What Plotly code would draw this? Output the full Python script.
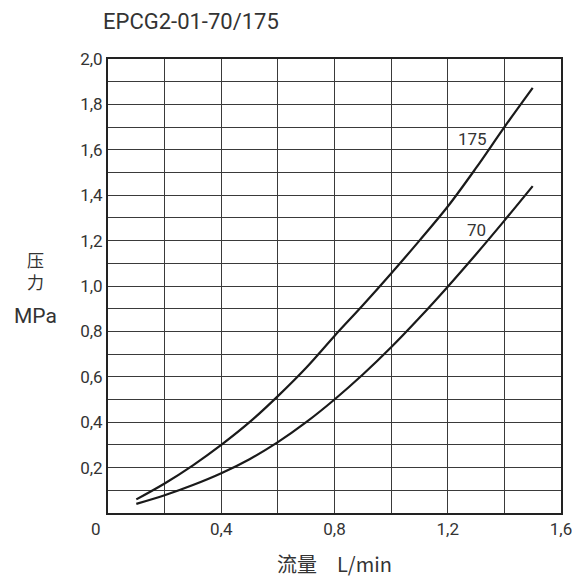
import plotly.graph_objects as go

flow = [0.1, 0.2, 0.3, 0.4, 0.5, 0.6, 0.7, 0.8, 0.9, 1.0, 1.1, 1.2, 1.3, 1.4, 1.5]
p175 = [0.06, 0.13, 0.21, 0.30, 0.40, 0.515, 0.64, 0.78, 0.915, 1.055, 1.20, 1.35, 1.52, 1.70, 1.873]
p70 = [0.04, 0.078, 0.123, 0.175, 0.237, 0.312, 0.40, 0.50, 0.61, 0.73, 0.86, 0.997, 1.14, 1.288, 1.44]

x_ticks = [0.2, 0.4, 0.6, 0.8, 1.0, 1.2, 1.4, 1.6]
x_text = ["", "0,4", "", "0,8", "", "1,2", "", "1,6"]
y_ticks = [round(0.1 * i, 1) for i in range(1, 21)]
y_text = [("%.1f" % v).replace(".", ",") if i % 2 == 1 else "" for i, v in enumerate(y_ticks)]

num_family = "Roboto, Noto Sans, sans-serif"
tick_font = dict(family=num_family, size=17, color="#333")
line_col = "#1a1a1a"

fig = go.Figure()
fig.add_trace(go.Scatter(x=flow, y=p175, mode="lines", line=dict(color=line_col, width=2.2, shape="spline", smoothing=1.0), showlegend=False))
fig.add_trace(go.Scatter(x=flow, y=p70, mode="lines", line=dict(color=line_col, width=2.2, shape="spline", smoothing=1.0), showlegend=False))

# page has an 8px body margin; figure is sized so the plot lands where the reference has it
OFF = 8
W, H = 572, 572
l, r, t, b = 108 - OFF, 19, 59 - OFF, 67
fig.update_layout(
    width=W, height=H,
    margin=dict(l=l, r=r, t=t, b=b, autoexpand=False),
    plot_bgcolor="white", paper_bgcolor="white",
    xaxis=dict(range=[0, 1.6], tickvals=x_ticks, ticktext=x_text, showgrid=True, automargin=False,
               gridcolor="#3a3a3a", gridwidth=1, zeroline=False, showline=True, mirror=True,
               linecolor="#222", linewidth=1.8, ticks="", tickfont=tick_font, fixedrange=True),
    yaxis=dict(range=[0, 2.0], tickvals=y_ticks, ticktext=y_text, showgrid=True, automargin=False,
               gridcolor="#3a3a3a", gridwidth=1, zeroline=False, showline=True, mirror=True,
               linecolor="#222", linewidth=1.8, ticks="", tickfont=tick_font, fixedrange=True),
)

ann_font = dict(family=num_family, size=17, color="#333")
fig.add_annotation(x=1.288, y=1.648, xref="x", yref="y", text="175", showarrow=False, font=ann_font)
fig.add_annotation(x=1.302, y=1.247, xref="x", yref="y", text="70", showarrow=False, font=ann_font)

# positions in page pixels of the reference
pix_ann = [
    (96, 529, "0", "center", dict(family=num_family, size=17, color="#333")),
    (101, 21, "EPCG2-01-70/175", "left", dict(family="Roboto, Noto Sans, sans-serif", size=22, color="#333")),
    (35, 270, "压<br>力", "center", dict(family="Noto Sans CJK SC", size=17, color="#333")),
    (35, 316, "MPa", "center", dict(family="Roboto, Noto Sans, sans-serif", size=21, color="#333")),
    (334, 563, "流量　L/min", "center", dict(family="Noto Sans CJK SC, Noto Sans, sans-serif", size=20, color="#333")),
]
pw, ph = W - l - r, H - t - b
for px, py, txt, xa, fnt in pix_ann:
    fx, fy = px - OFF, py - OFF
    fig.add_annotation(x=(fx - l) / pw, y=(H - b - fy) / ph, xref="paper", yref="paper",
                       text=txt, showarrow=False, xanchor=xa, yanchor="middle", font=fnt)

fig.write_html("out.html")
